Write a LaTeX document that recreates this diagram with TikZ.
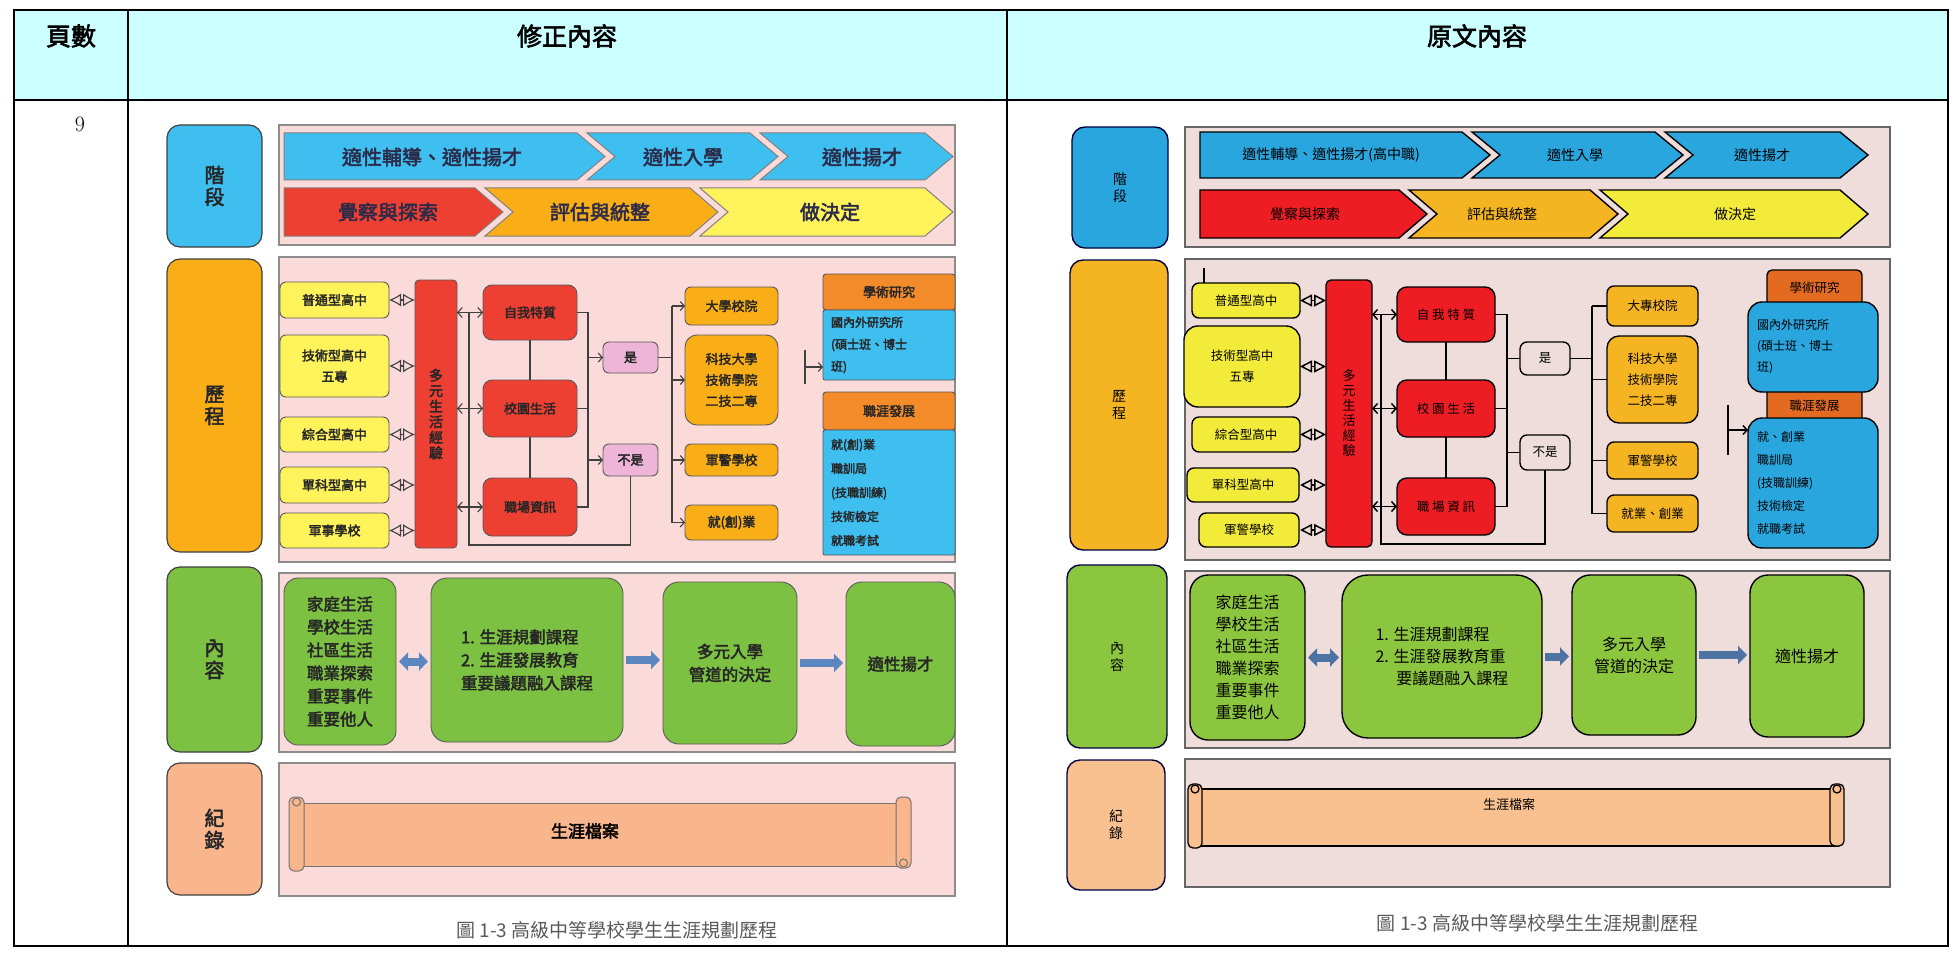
\documentclass[tikz,border=0pt]{standalone}
\usepackage{fontspec}
\newfontfamily\cjk[AutoFakeBold=2.5]{Noto Sans CJK TC}
\usetikzlibrary{arrows.meta,positioning}

\definecolor{hdr}{HTML}{CCFFFF}
\definecolor{lpink}{HTML}{FBDADA}
\definecolor{lsky}{HTML}{3EBFF0}
\definecolor{lred}{HTML}{EE3F33}
\definecolor{lorange}{HTML}{F9AE17}
\definecolor{lyellow}{HTML}{FFF35C}
\definecolor{lrose}{HTML}{EEB5D8}
\definecolor{ldeep}{HTML}{F38B2A}
\definecolor{lgreen}{HTML}{7DC143}
\definecolor{lpeach}{HTML}{F9B58C}
\definecolor{steel}{HTML}{5B87C0}
\definecolor{rpink}{HTML}{EEDDDA}
\definecolor{rsky}{HTML}{2AA6DE}
\definecolor{rred}{HTML}{EE1D24}
\definecolor{rorange}{HTML}{F5B523}
\definecolor{ryellow}{HTML}{F3EB3A}
\definecolor{rdeep}{HTML}{E26B21}
\definecolor{rgreen}{HTML}{8CC63E}
\definecolor{rpeach}{HTML}{F9C190}
\definecolor{ink}{HTML}{2B2A48}

\newcommand\lfont{\cjk\bfseries\fontsize{13}{21}\selectfont}
\newcommand\rfont{\cjk\fontsize{12.5}{21}\selectfont}
% chevron: x0, x1, top, bottom, notch
\newcommand{\chev}[5]{(#1,#3) -- (#2,#3) -- ({#2+28},{(#3+#4)/2}) -- (#2,#4) -- (#1,#4) -- ({#1+#5},{(#3+#4)/2}) -- cycle}

\begin{document}
\begin{tikzpicture}[x=1pt, y=-1pt, >=latex,
  sz/.style 2 args={minimum width=#1pt, minimum height=#2pt},
  nb/.style={inner sep=0pt, outer sep=0pt, align=center},
  lbox/.style={nb, draw=black!65, line width=0.9pt, rounded corners=6pt, font=\lfont, text=black!85},
  rbox/.style={nb, draw=black, line width=1.4pt, rounded corners=7pt, font=\rfont},
  lside/.style={lbox, rounded corners=13pt, line width=1.2pt, draw=black!75, font=\cjk\bfseries\fontsize{20}{22}\selectfont},
  rside/.style={rbox, rounded corners=13pt, draw=black!75!blue, font=\cjk\fontsize{14}{17}\selectfont},
  lpanel/.style={nb, draw=black!45, line width=1.2pt, fill=lpink},
  rpanel/.style={nb, draw=black!60, line width=1.2pt, fill=rpink},
  llink/.style={draw=black!75, line width=1.1pt},
  rlink/.style={draw=black, line width=1.5pt},
  lchev/.style={draw=black!50, line width=1pt},
  rchev/.style={draw=black, line width=1.4pt},
  lgo/.style={nb, font=\cjk\bfseries\fontsize{20}{22}\selectfont, text=ink},
  rgo/.style={nb, font=\cjk\fontsize{14}{16}\selectfont},
  lcont/.style={lbox, rounded corners=16pt, fill=lgreen, font=\cjk\bfseries\fontsize{16.5}{23}\selectfont},
  rcont/.style={rbox, rounded corners=18pt, fill=rgreen, font=\cjk\fontsize{16}{22}\selectfont},
  barb/.style={-{Straight Barb[length=4pt,width=9pt]}},
  barbs/.style={{Straight Barb[length=4.5pt,width=10pt]}-{Straight Barb[length=4.5pt,width=10pt]}},
  lens/.style={{Latex[open,length=12pt,width=13pt]}-{Latex[open,length=12pt,width=13pt]}},
  dia/.style={{Triangle[open,length=12pt,width=12pt]}-{Triangle[open,length=12pt,width=12pt]}},
  block/.style={line width=8pt, draw=steel, shorten <=3pt, shorten >=3pt},
  capnote/.style={nb, font=\cjk\fontsize{19}{22}\selectfont, text=black!65},
]
\useasboundingbox (0,0) rectangle (1954,960);

% table
\fill[hdr] (14,10) rectangle (1948,100);
\draw[line width=1.6pt] (14,10) rectangle (1948,946);
\draw[line width=1.6pt] (14,100) -- (1948,100);
\draw[line width=1.6pt] (128,10) -- (128,946);
\draw[line width=1.6pt] (1007,10) -- (1007,946);
\node[nb, font=\cjk\bfseries\fontsize{25}{28}\selectfont] (Hpage) at (71,36) {頁數};
\node[nb, font=\cjk\bfseries\fontsize{25}{28}\selectfont] (Hnew) at (567,36) {修正內容};
\node[nb, font=\cjk\bfseries\fontsize{25}{28}\selectfont] (Hold) at (1477,36) {原文內容};
\node[nb, font=\fontsize{22}{24}\selectfont] (Pnum) at (80,124) {9};

%%% left figure
\node[lpanel, sz={676}{120}] (Lp1) at (617,185) {};
\node[lpanel, sz={676}{305}] (Lp2) at (617,409.5) {};
\node[lpanel, sz={676}{179}] (Lp3) at (617,662.5) {};
\node[lpanel, sz={676}{133}] (Lp4) at (617,829.5) {};
\node[lside, fill=lsky, sz={95}{122}] (Lstage) at (214.5,186) {階\\段};
\node[lside, fill=lorange, sz={95}{293}] (Lpath) at (214.5,405.5) {歷\\程};
\node[lside, fill=lgreen, sz={95}{185}] (Lcont) at (214.5,659.5) {內\\容};
\node[lside, fill=lpeach, sz={95}{132}] (Lrec) at (214.5,829) {紀\\錄};

% stages
\filldraw[lchev, fill=lsky] \chev{284}{577}{133}{180}{0};
\filldraw[lchev, fill=lsky] \chev{587}{750}{133}{180}{28};
\filldraw[lchev, fill=lsky] \chev{760}{925}{133}{180}{28};
\filldraw[lchev, fill=lred] \chev{284}{475}{188}{236}{0};
\filldraw[lchev, fill=lorange] \chev{485}{690}{188}{236}{28};
\filldraw[lchev, fill=lyellow] \chev{700}{925}{188}{236}{28};
\node[lgo] (Lg1) at (432,157) {適性輔導、適性揚才};
\node[lgo] (Lg2) at (683,157) {適性入學};
\node[lgo] (Lg3) at (862,157) {適性揚才};
\node[lgo] (Le1) at (388,212) {覺察與探索};
\node[lgo] (Le2) at (600,212) {評估與統整};
\node[lgo] (Le3) at (830,212) {做決定};

% path
\node[lbox, fill=lyellow, sz={109}{36}] (Lsch1) at (334.5,300) {普通型高中};
\node[lbox, fill=lyellow, sz={109}{62}] (Lsch2) at (334.5,366) {技術型高中\\五專};
\node[lbox, fill=lyellow, sz={109}{35}] (Lsch3) at (334.5,434.5) {綜合型高中};
\node[lbox, fill=lyellow, sz={109}{36}] (Lsch4) at (334.5,485) {單科型高中};
\node[lbox, fill=lyellow, sz={109}{35}] (Lsch5) at (334.5,530.5) {軍事學校};
\node[lbox, fill=lred, rounded corners=4pt, sz={42}{268}, font=\cjk\bfseries\fontsize{14}{15.5}\selectfont] (Lmulti) at (436,414) {多\\元\\生\\活\\經\\驗};
\node[lbox, fill=lred, rounded corners=9pt, sz={94}{55}] (Lself) at (530,312.5) {自我特質};
\node[lbox, fill=lred, rounded corners=9pt, sz={94}{57}] (Lcamp) at (530,408.5) {校園生活};
\node[lbox, fill=lred, rounded corners=9pt, sz={94}{58}] (Ljob) at (530,507) {職場資訊};
\node[lbox, fill=lrose, sz={55}{31}] (Lyes) at (630.5,357.5) {是};
\node[lbox, fill=lrose, sz={55}{32}] (Lno) at (630.5,460) {不是};
\node[lbox, fill=lorange, sz={93}{38}] (Luni) at (731.5,306) {大學校院};
\node[lbox, fill=lorange, rounded corners=12pt, sz={93}{90}] (Ltech) at (731.5,380) {科技大學\\技術學院\\二技二專};
\node[lbox, fill=lorange, sz={93}{32}] (Lmil) at (731.5,460) {軍警學校};
\node[lbox, fill=lorange, sz={93}{35}] (Lwork) at (731.5,522.5) {就(創)業};
\node[lbox, fill=ldeep, rounded corners=3pt, sz={132}{36}] (Lacad) at (889,292) {學術研究};
\node[lbox, fill=lsky, rounded corners=2pt, sz={132}{70}, text width=116pt, align=left, font=\cjk\bfseries\fontsize{12}{22}\selectfont] (Lgrad) at (889,345) {國內外研究所\\(碩士班、博士\\班)};
\node[lbox, fill=ldeep, rounded corners=3pt, sz={132}{38}] (Lcar) at (889,411) {職涯發展};
\node[lbox, fill=lsky, rounded corners=2pt, sz={132}{125}, text width=116pt, align=left, font=\cjk\bfseries\fontsize{12}{24}\selectfont] (Ltrain) at (889,492.5) {就(創)業\\職訓局\\(技職訓練)\\技術檢定\\就職考試};

\foreach \s in {Lsch1,Lsch2,Lsch3,Lsch4,Lsch5}
  \draw[llink, lens] (\s.east) -- (\s.east -| Lmulti.west);
\foreach \s in {Lself,Lcamp,Ljob}
  \draw[llink, barbs] (Lmulti.east |- \s.west) -- (\s.west);
\draw[llink] (Lself) -- (Lcamp);
\draw[llink] (Lcamp) -- (Ljob);
\coordinate (Lbr) at (588,0);
\draw[llink] (Lself.east) -| (Lbr |- Ljob.east) -- (Ljob.east);
\draw[llink] (Lcamp.east) -- (Lcamp.east -| Lbr);
\draw[llink, barb] (Lbr |- Lyes.west) -- (Lyes.west);
\draw[llink, barb] (Lbr |- Lno.west) -- (Lno.west);
\coordinate (Lbr2) at (672,0);
\draw[llink] (Lyes.east) -- (Lyes.east -| Lbr2);
\draw[llink] (Lbr2 |- Luni.west) -- (Lbr2 |- Lwork.west);
\foreach \d in {Luni,Ltech,Lmil,Lwork}
  \draw[llink, barb] (Lbr2 |- \d.west) -- (\d.west);
\coordinate (Lloop) at (469,545);
\draw[llink] (Lno.south) |- (Lloop) -- (Lloop |- Lself.west);
\coordinate (Lfork) at (805,367);
\draw[llink] ([yshift=17pt]Lfork) -- ([yshift=-17pt]Lfork);
\draw[llink, barb] (Lfork) -- (Lfork -| Lgrad.west);

% content
\node[lcont, rounded corners=14pt, sz={112}{167}] (Lfam) at (340,661.5) {家庭生活\\學校生活\\社區生活\\職業探索\\重要事件\\重要他人};
\node[lcont, sz={192}{164}, align=left] (Lclass) at (527,660) {1. 生涯規劃課程\\2. 生涯發展教育\\重要議題融入課程};
\node[lcont, sz={134}{162}] (Ladm) at (730,663) {多元入學\\管道的決定};
\node[lcont, sz={109}{164}] (Ltal) at (900.5,664) {適性揚才};
\draw[block, {Triangle[length=9pt,width=18pt]}-{Triangle[length=9pt,width=18pt]}] (Lfam.east) -- (Lfam.east -| Lclass.west);
\draw[block, -{Triangle[length=9pt,width=18pt]}] (Lclass.east) -- (Lclass.east -| Ladm.west);
\draw[block, -{Triangle[length=9pt,width=18pt]}] (Ladm.east) -- (Ladm.east -| Ltal.west);

% record
\filldraw[fill=lpeach, draw=black!55, line width=1pt] (298,803) rectangle (902,866);
\filldraw[fill=lpeach, draw=black!55, line width=1pt, rounded corners=5pt] (289,797) rectangle (304,871);
\filldraw[fill=lpeach, draw=black!55, line width=1pt, rounded corners=5pt] (896,797) rectangle (911,868);
\draw[black!55, line width=1pt] (296.5,802) circle (4);
\draw[black!55, line width=1pt] (903.5,863) circle (4);
\node[nb, font=\cjk\bfseries\fontsize{17}{20}\selectfont] (Lfile) at (585,831) {生涯檔案};
\node[capnote, below=25pt of Lp4] (Lcap) {圖 1-3 高級中等學校學生生涯規劃歷程};

%%% right figure
\node[rpanel, sz={705}{120}] (Rp1) at (1537.5,187) {};
\node[rpanel, sz={705}{301}] (Rp2) at (1537.5,409.5) {};
\node[rpanel, sz={705}{177}] (Rp3) at (1537.5,659.5) {};
\node[rpanel, sz={705}{128}] (Rp4) at (1537.5,823) {};
\node[rside, fill=rsky, sz={96}{121}] (Rstage) at (1120,187.5) {階\\段};
\node[rside, fill=rorange, sz={98}{290}] (Rpath) at (1119,405) {歷\\程};
\node[rside, fill=rgreen, sz={100}{183}] (Rcont) at (1117,656.5) {內\\容};
\node[rside, fill=rpeach, sz={98}{130}] (Rrec) at (1116,825) {紀\\錄};

% stages
\filldraw[rchev, fill=rsky] \chev{1200}{1462}{132}{178}{0};
\filldraw[rchev, fill=rsky] \chev{1472}{1655}{132}{178}{28};
\filldraw[rchev, fill=rsky] \chev{1665}{1840}{132}{178}{28};
\filldraw[rchev, fill=rred] \chev{1200}{1399}{190}{238}{0};
\filldraw[rchev, fill=rorange] \chev{1409}{1590}{190}{238}{28};
\filldraw[rchev, fill=ryellow] \chev{1600}{1840}{190}{238}{28};
\node[rgo] (Rg1) at (1331,155) {適性輔導、適性揚才(高中職)};
\node[rgo] (Rg2) at (1575,155) {適性入學};
\node[rgo] (Rg3) at (1762,155) {適性揚才};
\node[rgo] (Re1) at (1305,214) {覺察與探索};
\node[rgo] (Re2) at (1502,214) {評估與統整};
\node[rgo] (Re3) at (1735,214) {做決定};

% path
\node[rbox, fill=ryellow, sz={108}{35}] (Rsch1) at (1246,300.5) {普通型高中};
\node[rbox, fill=ryellow, rounded corners=14pt, sz={116}{81}] (Rsch2) at (1242,366.5) {技術型高中\\五專};
\node[rbox, fill=ryellow, sz={108}{35}] (Rsch3) at (1246,434.5) {綜合型高中};
\node[rbox, fill=ryellow, sz={112}{34}] (Rsch4) at (1243,485) {單科型高中};
\node[rbox, fill=ryellow, sz={100}{34}] (Rsch5) at (1249,530) {軍警學校};
\node[rbox, fill=rred, rounded corners=5pt, sz={46}{267}, font=\cjk\fontsize{13}{15}\selectfont] (Rmulti) at (1349,413.5) {多\\元\\生\\活\\經\\驗};
\node[rbox, fill=rred, rounded corners=10pt, sz={98}{55}] (Rself) at (1446,314.5) {自 我 特 質};
\node[rbox, fill=rred, rounded corners=10pt, sz={98}{57}] (Rcamp) at (1446,408.5) {校 園 生 活};
\node[rbox, fill=rred, rounded corners=10pt, sz={98}{57}] (Rjob) at (1446,506.5) {職 場 資 訊};
\node[rbox, fill=rpink, sz={50}{33}] (Ryes) at (1545,358.5) {是};
\node[rbox, fill=rpink, sz={50}{35}] (Rno) at (1545,452.5) {不是};
\node[rbox, fill=rorange, sz={91}{40}] (Runi) at (1652.5,306) {大專校院};
\node[rbox, fill=rorange, rounded corners=12pt, sz={91}{87}] (Rtech) at (1652.5,379.5) {科技大學\\技術學院\\二技二專};
\node[rbox, fill=rorange, sz={91}{37}] (Rmil) at (1652.5,460.5) {軍警學校};
\node[rbox, fill=rorange, sz={91}{37}] (Rwork) at (1652.5,513.5) {就業、創業};
\node[rbox, fill=rdeep, rounded corners=5pt, sz={95}{36}] (Racad) at (1814.5,288) {學術研究};
\node[rbox, fill=rdeep, rounded corners=5pt, sz={95}{36}] (Rcar) at (1814.5,406) {職涯發展};
\node[rbox, fill=rsky, rounded corners=14pt, sz={130}{90}, text width=112pt, align=left, font=\cjk\fontsize{12}{21}\selectfont] (Rgrad) at (1813,347) {國內外研究所\\(碩士班、博士\\班)};
\node[rbox, fill=rsky, rounded corners=14pt, sz={130}{130}, text width=112pt, align=left, font=\cjk\fontsize{12}{23}\selectfont] (Rtrain) at (1813,483) {就、創業\\職訓局\\(技職訓練)\\技術檢定\\就職考試};

\coordinate (Rtick) at (1204,268);
\draw[rlink] (Rtick) -- (Rtick |- Rsch1.north);
\foreach \s in {Rsch1,Rsch2,Rsch3,Rsch4,Rsch5}
  \draw[rlink, dia] (\s.east -| Rsch1.east) -- (\s.east -| Rmulti.west);
\foreach \s in {Rself,Rcamp,Rjob}
  \draw[rlink, barbs] (Rmulti.east |- \s.west) -- (\s.west);
\draw[rlink] (Rself) -- (Rcamp);
\draw[rlink] (Rcamp) -- (Rjob);
\coordinate (Rbr) at (1507,0);
\draw[rlink] (Rself.east) -| (Rbr |- Rjob.east) -- (Rjob.east);
\draw[rlink] (Rcamp.east) -- (Rcamp.east -| Rbr);
\draw[rlink] (Rbr |- Ryes.west) -- (Ryes.west);
\draw[rlink] (Rbr |- Rno.west) -- (Rno.west);
\coordinate (Rbr2) at (1592,0);
\draw[rlink] (Ryes.east) -- (Ryes.east -| Rbr2);
\draw[rlink] (Rbr2 |- Runi.west) -- (Rbr2 |- Rwork.west);
\foreach \d in {Runi,Rtech,Rmil,Rwork}
  \draw[rlink] (Rbr2 |- \d.west) -- (\d.west);
\coordinate (Rloop) at (1381,544);
\draw[rlink] (Rno.south) |- (Rloop) -- (Rloop |- Rself.west);
\coordinate (Rfork) at (1728,430);
\draw[rlink] ([yshift=25pt]Rfork) -- ([yshift=-25pt]Rfork);
\draw[rlink, barb] (Rfork) -- (Rfork -| Rtrain.west);

% content
\node[rcont, sz={115}{165}] (Rfam) at (1247.5,657.5) {家庭生活\\學校生活\\社區生活\\職業探索\\重要事件\\重要他人};
\node[rcont, rounded corners=26pt, sz={200}{163}, align=left] (Rclass) at (1442,656.5) {1. 生涯規劃課程\\2. 生涯發展教育重\\\hspace{1.3em}要議題融入課程};
\node[rcont, sz={124}{160}] (Radm) at (1634,655) {多元入學\\管道的決定};
\node[rcont, sz={114}{162}] (Rtal) at (1807,656) {適性揚才};
\draw[block, draw=steel!85!black, {Triangle[length=9pt,width=18pt]}-{Triangle[length=9pt,width=18pt]}] (Rfam.east) -- (Rfam.east -| Rclass.west);
\draw[block, draw=steel!85!black, -{Triangle[length=9pt,width=18pt]}] (Rclass.east) -- (Rclass.east -| Radm.west);
\draw[block, draw=steel!85!black, -{Triangle[length=9pt,width=18pt]}] (Radm.east) -- (Radm.east -| Rtal.west);

% record
\filldraw[fill=rpeach, draw=black, line width=1.3pt] (1197,789) rectangle (1838,846);
\filldraw[fill=rpeach, draw=black, line width=1.3pt, rounded corners=5pt] (1188,784) rectangle (1202,848);
\filldraw[fill=rpeach, draw=black, line width=1.3pt, rounded corners=5pt] (1830,784) rectangle (1844,846);
\draw[black, line width=1.3pt] (1195,789) circle (4);
\draw[black, line width=1.3pt] (1837,789) circle (4);
\node[nb, font=\cjk\fontsize{13}{16}\selectfont] (Rfile) at (1509,805) {生涯檔案};
\node[capnote, below=27pt of Rp4] (Rcap) {圖 1-3 高級中等學校學生生涯規劃歷程};
\end{tikzpicture}
\end{document}
